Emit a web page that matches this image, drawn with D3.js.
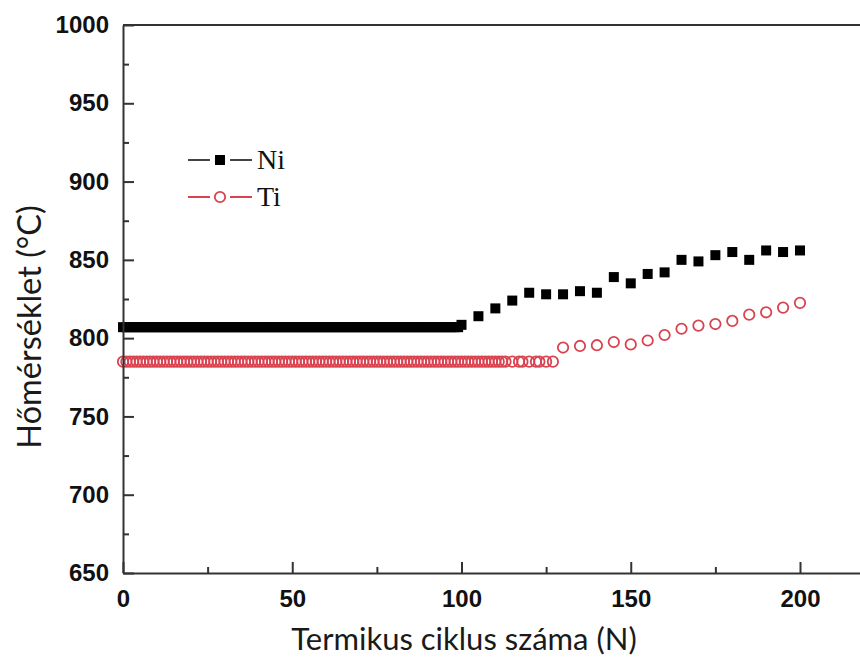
<!DOCTYPE html>
<html>
<head>
<meta charset="utf-8">
<script src="https://cdn.jsdelivr.net/npm/d3@7"></script>
<style>
  body { margin: 0; background: #fff; }
  svg { display: block; }
</style>
</head>
<body>
<svg id="chart" width="860" height="661"></svg>
<script>
// Ni: cycles 0-100 flat, then every 5th cycle
const niCycles = [
  0, 1, 2, 3, 4, 5, 6, 7, 8, 9, 10, 11, 12, 13, 14, 15, 16, 17, 18, 19,
  20, 21, 22, 23, 24, 25, 26, 27, 28, 29, 30, 31, 32, 33, 34, 35, 36, 37, 38, 39,
  40, 41, 42, 43, 44, 45, 46, 47, 48, 49, 50, 51, 52, 53, 54, 55, 56, 57, 58, 59,
  60, 61, 62, 63, 64, 65, 66, 67, 68, 69, 70, 71, 72, 73, 74, 75, 76, 77, 78, 79,
  80, 81, 82, 83, 84, 85, 86, 87, 88, 89, 90, 91, 92, 93, 94, 95, 96, 97, 98, 99,
  100, 105, 110, 115, 120, 125, 130, 135, 140, 145, 150,
  155, 160, 165, 170, 175, 180, 185, 190, 195, 200
];
const niTemps = [
  807, 807, 807, 807, 807, 807, 807, 807, 807, 807, 807, 807, 807, 807, 807, 807, 807, 807, 807, 807,
  807, 807, 807, 807, 807, 807, 807, 807, 807, 807, 807, 807, 807, 807, 807, 807, 807, 807, 807, 807,
  807, 807, 807, 807, 807, 807, 807, 807, 807, 807, 807, 807, 807, 807, 807, 807, 807, 807, 807, 807,
  807, 807, 807, 807, 807, 807, 807, 807, 807, 807, 807, 807, 807, 807, 807, 807, 807, 807, 807, 807,
  807, 807, 807, 807, 807, 807, 807, 807, 807, 807, 807, 807, 807, 807, 807, 807, 807, 807, 807, 807,
  808.5, 814, 819, 824, 829, 828, 828, 830, 829, 839, 835,
  841, 842, 850, 849, 853, 855, 850, 856, 855, 856
];

// Ti: cycles 0-127 flat, then every 5th cycle
const tiCycles = [
  0, 1, 2, 3, 4, 5, 6, 7, 8, 9, 10, 11, 12, 13, 14, 15, 16, 17, 18, 19,
  20, 21, 22, 23, 24, 25, 26, 27, 28, 29, 30, 31, 32, 33, 34, 35, 36, 37, 38, 39,
  40, 41, 42, 43, 44, 45, 46, 47, 48, 49, 50, 51, 52, 53, 54, 55, 56, 57, 58, 59,
  60, 61, 62, 63, 64, 65, 66, 67, 68, 69, 70, 71, 72, 73, 74, 75, 76, 77, 78, 79,
  80, 81, 82, 83, 84, 85, 86, 87, 88, 89, 90, 91, 92, 93, 94, 95, 96, 97, 98, 99,
  100, 101, 102, 103, 104, 105, 106, 107, 108, 109, 110, 111, 112, 113,
  115, 117, 118, 120, 122, 123, 125, 127,
  130, 135, 140, 145, 150, 155, 160, 165, 170, 175, 180, 185, 190, 195, 200
];
const tiTemps = [
  785, 785, 785, 785, 785, 785, 785, 785, 785, 785, 785, 785, 785, 785, 785, 785, 785, 785, 785, 785,
  785, 785, 785, 785, 785, 785, 785, 785, 785, 785, 785, 785, 785, 785, 785, 785, 785, 785, 785, 785,
  785, 785, 785, 785, 785, 785, 785, 785, 785, 785, 785, 785, 785, 785, 785, 785, 785, 785, 785, 785,
  785, 785, 785, 785, 785, 785, 785, 785, 785, 785, 785, 785, 785, 785, 785, 785, 785, 785, 785, 785,
  785, 785, 785, 785, 785, 785, 785, 785, 785, 785, 785, 785, 785, 785, 785, 785, 785, 785, 785, 785,
  785, 785, 785, 785, 785, 785, 785, 785, 785, 785, 785, 785, 785, 785,
  785, 785, 785, 785, 785, 785, 785, 785,
  794, 795, 795.5, 797.5, 796, 798.5, 802, 806, 808, 809, 811, 815, 816.5, 819.5, 822.5
];

const xTicks = [0, 50, 100, 150, 200];
const xMinorTicks = [25, 75, 125, 175, 225];
const yTicks = [650, 700, 750, 800, 850, 900, 950, 1000];
const yMinorTicks = [675, 725, 775, 825, 875, 925, 975];

const xTitle = "Termikus ciklus száma (N)";
const yTitle = "Hőmérséklet (°C)";
const seriesNames = ["Ni", "Ti"];

const svg = d3.select("#chart");
const plotLeft = 123, plotTop = 25, plotBottom = 573;
const axisColor = "#333";
const tiColor = "#d9434f";

// x: 0..200 maps to 123..800, extended past the right edge
const x = d3.scaleLinear().domain([0, 220]).range([plotLeft, plotLeft + 677 * 1.1]);
const y = d3.scaleLinear().domain([650, 1000]).range([plotBottom, plotTop]);

// Ti circles (drawn first, under Ni)
svg.append("g")
  .selectAll("circle")
  .data(tiCycles.map((c, i) => [c, tiTemps[i]]))
  .enter()
  .append("circle")
  .attr("cx", d => x(d[0]))
  .attr("cy", d => y(d[1]))
  .attr("r", 5.2)
  .attr("fill", "none")
  .attr("stroke", tiColor)
  .attr("stroke-width", 1.8);

// Ni squares
const sq = 10;
svg.append("g")
  .selectAll("rect")
  .data(niCycles.map((c, i) => [c, niTemps[i]]))
  .enter()
  .append("rect")
  .attr("x", d => x(d[0]) - sq / 2)
  .attr("y", d => y(d[1]) - sq / 2)
  .attr("width", sq)
  .attr("height", sq)
  .attr("fill", "#000");

// Axes
svg.append("g")
  .attr("transform", `translate(0,${plotBottom})`)
  .call(d3.axisBottom(x).tickValues(xTicks).tickSize(-11).tickSizeOuter(0).tickPadding(17));
svg.append("g")
  .attr("transform", `translate(0,${plotBottom})`)
  .call(d3.axisBottom(x).tickValues(xMinorTicks).tickSize(-6).tickFormat(""))
  .call(g => g.select(".domain").remove());

svg.append("g")
  .attr("transform", `translate(${plotLeft},0)`)
  .call(d3.axisLeft(y).tickValues(yTicks).tickFormat(d3.format("d"))
    .tickSize(-11).tickSizeOuter(0).tickPadding(14));
svg.append("g")
  .attr("transform", `translate(${plotLeft},0)`)
  .call(d3.axisLeft(y).tickValues(yMinorTicks).tickSize(-6).tickFormat(""))
  .call(g => g.select(".domain").remove());

// top frame line
svg.append("line")
  .attr("x1", plotLeft).attr("x2", 860)
  .attr("y1", plotTop).attr("y2", plotTop)
  .attr("stroke", axisColor).attr("stroke-width", 2);

svg.selectAll(".domain, .tick line")
  .attr("stroke", axisColor)
  .attr("stroke-width", 2);

svg.selectAll(".tick text")
  .attr("fill", "#111")
  .style("font-family", "'Liberation Sans', Arial, sans-serif")
  .style("font-weight", "bold")
  .style("font-size", "24px");

// Axis titles
svg.append("text")
  .attr("x", 464)
  .attr("y", 650)
  .attr("text-anchor", "middle")
  .style("font-family", "Lato, 'Open Sans', sans-serif")
  .style("font-size", "31px")
  .attr("fill", "#1a1a1a")
  .text(xTitle);

svg.append("text")
  .attr("transform", "translate(41,327) rotate(-90)")
  .attr("text-anchor", "middle")
  .style("font-family", "Lato, 'Open Sans', sans-serif")
  .style("font-size", "32.5px")
  .attr("fill", "#1a1a1a")
  .text(yTitle);

// Legend
const legend = svg.append("g");
const rows = [
  { name: seriesNames[0], y: 160 },
  { name: seriesNames[1], y: 197 }
];
rows.forEach((r, i) => {
  const lg = legend.append("g");
  const lineColor = i === 0 ? "#444" : tiColor;
  lg.append("line").attr("x1", 188).attr("x2", 210).attr("y1", r.y).attr("y2", r.y)
    .attr("stroke", lineColor).attr("stroke-width", 2);
  lg.append("line").attr("x1", 230).attr("x2", 252).attr("y1", r.y).attr("y2", r.y)
    .attr("stroke", lineColor).attr("stroke-width", 2);
  if (i === 0) {
    lg.append("rect").attr("x", 220 - 5).attr("y", r.y - 5)
      .attr("width", 10).attr("height", 10).attr("fill", "#000");
  } else {
    lg.append("circle").attr("cx", 220).attr("cy", r.y).attr("r", 5.2)
      .attr("fill", "none").attr("stroke", tiColor).attr("stroke-width", 1.8);
  }
  lg.append("text")
    .attr("x", 257)
    .attr("y", r.y + 9)
    .style("font-family", "'Liberation Serif', 'Times New Roman', serif")
    .style("font-size", "28px")
    .attr("fill", "#111")
    .text(r.name);
});
</script>
</body>
</html>
